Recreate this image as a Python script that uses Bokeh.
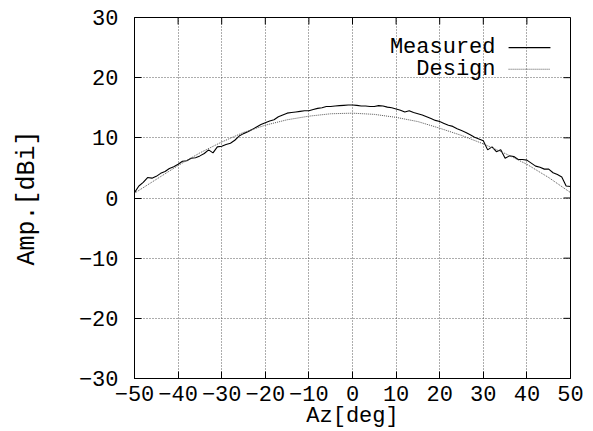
from bokeh.plotting import figure
from bokeh.models import Range1d, FixedTicker, Label
from bokeh.embed import file_html
from bokeh.resources import INLINE

# ---- data ----
az_measured = list(range(-50, 51))
amp_measured = [
    0.9, 2.0, 2.6, 3.4, 3.3, 3.6, 4.1, 4.4, 4.9, 5.2,
    5.6, 6.1, 6.2, 6.6, 6.7, 7.0, 7.4, 8.0, 7.5, 8.5,
    8.6, 8.9, 9.1, 9.6, 10.3, 10.7, 11.0, 11.4, 11.8, 12.2,
    12.5, 12.8, 13.0, 13.5, 13.8, 14.1, 14.2, 14.3, 14.4, 14.5,
    14.5, 14.7, 14.9, 15.0, 15.2, 15.2, 15.3, 15.35, 15.4, 15.45,
    15.45,
    15.4, 15.3, 15.3, 15.2, 15.2, 15.35, 15.3, 15.1, 15.0, 14.8,
    14.6, 14.3, 14.5, 14.2, 14.0, 13.8, 13.5, 13.2, 12.9, 12.7,
    12.4, 12.1, 11.9, 11.5, 11.2, 10.9, 10.5, 10.1, 9.8, 9.5,
    8.0, 8.5, 7.7, 8.0, 6.6, 7.0, 6.9, 6.4, 6.4, 6.3,
    5.8, 5.3, 5.1, 4.8, 4.8, 4.2, 3.9, 3.5, 2.0, 1.9,
]
az_design = list(range(-50, 51, 5))
amp_design = [0.8, 3.1, 5.4, 7.5, 9.3, 10.9, 12.1, 13.0, 13.6, 14.0, 14.1,
              13.9, 13.4, 12.7, 11.6, 10.4, 9.0, 7.4, 5.6, 3.4, 0.9]
x_ticks = [-50, -40, -30, -20, -10, 0, 10, 20, 30, 40, 50]
y_ticks = [-30, -20, -10, 0, 10, 20, 30]
series_names = ["Measured", "Design"]
x_title = "Az[deg]"
y_title = "Amp.[dBi]"

FONT = "Liberation Mono"
FS = "22px"
XMIN, XMAX, YMIN, YMAX = -50, 50, -30, 30

p = figure(width=593, height=431, output_backend="svg", toolbar_location=None,
           x_range=Range1d(XMIN, XMAX), y_range=Range1d(YMIN, YMAX),
           min_border_left=134, min_border_right=23, min_border_top=17,
           min_border_bottom=51, background_fill_color="white",
           border_fill_color="white")
p.outline_line_color = "black"
p.outline_line_width = 1

for ax, ticks in ((p.xaxis[0], x_ticks), (p.yaxis[0], y_ticks)):
    ax.ticker = FixedTicker(ticks=ticks)
    ax.major_tick_in = 7
    ax.major_tick_out = 0
    ax.minor_tick_line_color = None
    ax.axis_line_color = "black"
    ax.major_tick_line_color = "black"
    ax.major_label_text_font = FONT
    ax.major_label_text_font_size = FS
    ax.major_label_text_color = "black"
    ax.major_label_text_line_height = 1.0
    ax.axis_label_text_font = FONT
    ax.axis_label_text_font_size = FS
    ax.axis_label_text_font_style = "normal"
    ax.axis_label_text_color = "black"
    ax.axis_label_text_line_height = 1.0

p.xaxis.axis_label = x_title
p.xaxis.major_label_standoff = 7
p.xaxis.axis_label_standoff = 0
p.yaxis.axis_label = y_title
p.yaxis.axis_label_text_font_size = "25px"
p.yaxis.major_label_standoff = 16
p.yaxis.axis_label_standoff = 34

# mirrored inward ticks on top and right borders
tick_dy = 7 * (YMAX - YMIN) / 363.0
tick_dx = 7 * (XMAX - XMIN) / 436.0
p.segment(x0=x_ticks, y0=[YMAX] * len(x_ticks), x1=x_ticks,
          y1=[YMAX - tick_dy] * len(x_ticks), line_color="black", line_width=1)
p.segment(x0=[XMAX] * len(y_ticks), y0=y_ticks, x1=[XMAX - tick_dx] * len(y_ticks),
          y1=y_ticks, line_color="black", line_width=1)

p.xgrid.ticker = FixedTicker(ticks=x_ticks)
p.ygrid.ticker = FixedTicker(ticks=y_ticks)
p.grid.grid_line_color = "#333333"
p.grid.grid_line_dash = "1 2"
p.grid.grid_line_width = 1
p.grid.grid_line_alpha = 0.8

p.line(az_measured, amp_measured, line_color="black", line_width=1.1)
p.line(az_design, amp_design, line_color="#555555", line_width=1, line_dash="1 1")

# legend (gnuplot style: label right-aligned, sample to the right)
leg_text_x = 32.8
leg_y = [25.0, 21.4]
sample_x0, sample_x1 = 35.8, 45.4
for name, yy in zip(series_names, leg_y):
    p.add_layout(Label(x=leg_text_x, y=yy, text=name, text_font=FONT,
                       text_font_size=FS, text_align="right",
                       text_baseline="middle", text_color="black"))
p.segment(x0=[sample_x0], y0=[leg_y[0]], x1=[sample_x1], y1=[leg_y[0]],
          line_color="black", line_width=1.1)
p.segment(x0=[sample_x0], y0=[leg_y[1]], x1=[sample_x1], y1=[leg_y[1]],
          line_color="#555555", line_width=1, line_dash="1 1")

open("out.html", "w").write(file_html(p, INLINE))
